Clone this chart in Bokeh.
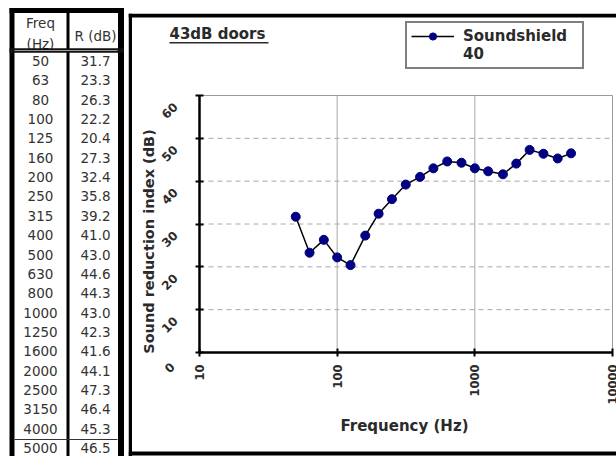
import math
from bokeh.plotting import figure
from bokeh.layouts import row, column
from bokeh.models import (Range1d, FixedTicker, LogTickFormatter, Label, BoxAnnotation, Spacer,
                          Legend, LegendItem, CustomJSTickFormatter)
from bokeh.core.properties import value
from bokeh.embed import file_html
from bokeh.resources import INLINE

# ---- data ----
freqs = [50, 63, 80, 100, 125, 160, 200, 250, 315, 400, 500, 630, 800,
         1000, 1250, 1600, 2000, 2500, 3150, 4000, 5000]
r_db = [31.7, 23.3, 26.3, 22.2, 20.4, 27.3, 32.4, 35.8, 39.2, 41.0, 43.0,
        44.6, 44.3, 43.0, 42.3, 41.6, 44.1, 47.3, 46.4, 45.3, 46.5]
x_ticks = [10, 100, 1000, 10000]
y_ticks = [0, 10, 20, 30, 40, 50, 60]
table_headers = ["Freq", "(Hz)", "R (dB)"]
series_name = ["Soundshield", "40"]
chart_title = "43dB doors"
x_title = "Frequency (Hz)"
y_title = "Sound reduction index (dB)"

FONT = "DejaVu Sans"
TXT = "#2a2a2a"
GRID = "#a8a8a8"

# ---- table (coordinates = page pixels) ----
tf = figure(width=128, height=456, x_range=Range1d(0, 128), y_range=Range1d(456, 0),
            output_backend="svg", toolbar_location=None, min_border=0,
            x_axis_location=None, y_axis_location=None)
tf.grid.visible = False
tf.outline_line_color = None

n = len(freqs)
row_y = [60.5 + i * 19.35 for i in range(n)]
tf.text(x=[40] * n, y=row_y, text=[str(f) for f in freqs], text_align="center",
        text_baseline="middle", text_font=value(FONT), text_font_size="13.5px", text_color="#333333")
tf.text(x=[95] * n, y=row_y, text=["%.1f" % r for r in r_db], text_align="center",
        text_baseline="middle", text_font=value(FONT), text_font_size="13.5px", text_color="#333333")
tf.text(x=[40, 40, 95], y=[22.5, 43, 35], text=table_headers, text_align="center",
        text_baseline="middle", text_font=value(FONT), text_font_size="13.5px", text_color="#333333")

tf.segment(x0=[11.5, 67.5, 120.5], y0=[7.5] * 3, x1=[11.5, 67.5, 120.5], y1=[456] * 3,
           line_color="black", line_width=[5, 3, 6])
tf.segment(x0=[9], y0=[10], x1=[123.5], y1=[10], line_color="black", line_width=5)
tf.segment(x0=[9], y0=[50], x1=[123.5], y1=[50], line_color="#111111", line_width=4.5)
tf.segment(x0=[14], y0=[50], x1=[117], y1=[50], line_color="#9a9a9a", line_width=1.2)
tf.segment(x0=[14], y0=[439], x1=[117], y1=[439], line_color="#333333", line_width=1.2)

# ---- chart: the frame fills the whole canvas (page x 128..616, y 13..456) ----
W, H = 488, 443
PL, PR, PT, PB = 71, 484, 82, 339   # inner plot area in canvas pixels (from top-left)
dec = (PR - PL) / (math.log10(x_ticks[-1]) - math.log10(x_ticks[0]))
x0 = 10 ** (math.log10(x_ticks[0]) - PL / dec)
x1 = 10 ** (math.log10(x_ticks[-1]) + (W - PR) / dec)
upp = (y_ticks[-1] - y_ticks[0]) / (PB - PT)
y0 = y_ticks[0] - (H - PB) * upp
y1 = y_ticks[-1] + PT * upp

p = figure(width=W, height=H, x_axis_type="log", x_range=Range1d(x0, x1),
           y_range=Range1d(y0, y1), output_backend="svg", toolbar_location=None,
           min_border=0)
p.grid.visible = False
p.outline_line_color = None

# box border (left, top, bottom) in screen pixels
for l, r, b, t in [(0, 3.5, 0, H), (0, W, H - 4, H), (0, W, 1, 5)]:
    p.add_layout(BoxAnnotation(left=l, right=r, bottom=b, top=t, left_units="screen",
                               right_units="screen", bottom_units="screen", top_units="screen",
                               fill_color="black", fill_alpha=1, line_color=None))

# gridlines and inner plot box
p.segment(x0=x_ticks[1:-1], y0=[y_ticks[0]] * 2, x1=x_ticks[1:-1], y1=[y_ticks[-1]] * 2,
          line_color=GRID, line_width=1)
p.segment(x0=[x_ticks[0]] * 5, y0=y_ticks[1:-1], x1=[x_ticks[-1]] * 5, y1=y_ticks[1:-1],
          line_color=GRID, line_width=1, line_dash="5 4")
p.segment(x0=[x_ticks[0], x_ticks[-1]], y0=[y_ticks[-1], y_ticks[0]],
          x1=[x_ticks[-1], x_ticks[-1]], y1=[y_ticks[-1], y_ticks[-1]],
          line_color="#9a9a9a", line_width=1)

p.xaxis.ticker = FixedTicker(ticks=x_ticks, minor_ticks=[])
p.xaxis.formatter = LogTickFormatter(min_exponent=5)
p.yaxis.ticker = FixedTicker(ticks=y_ticks, minor_ticks=[])
p.yaxis.formatter = CustomJSTickFormatter(code="return ''")
p.xaxis.fixed_location = y_ticks[0]
p.xaxis.bounds = (x_ticks[0], x_ticks[-1])
p.yaxis.fixed_location = x_ticks[0]
p.yaxis.bounds = (y_ticks[0], y_ticks[-1])

for ax in (p.xaxis, p.yaxis):
    ax.axis_line_color = "black"
    ax.axis_line_width = 2.5
    ax.major_tick_line_color = "black"
    ax.major_tick_line_width = 2
    ax.major_tick_in = 4
    ax.major_tick_out = 4
    ax.minor_tick_line_color = None
    ax.major_label_text_font = FONT
    ax.major_label_text_font_size = "11.5px"
    ax.major_label_text_font_style = "bold"
    ax.major_label_text_color = TXT

p.xaxis.major_label_orientation = math.pi / 2
p.xaxis.major_label_standoff = 8

# slanted y tick labels, hung below-left of each tick as in the original
p.text(x=[x_ticks[0]] * len(y_ticks), y=y_ticks, text=[str(v) for v in y_ticks],
       angle=math.pi / 4, x_offset=-30, y_offset=15, text_align="center",
       text_baseline="middle", text_font=value(FONT), text_font_size="12px",
       text_font_style="bold", text_color=TXT)

r_line = p.line(freqs, r_db, line_color="black", line_width=1.5)
r_pts = p.scatter(freqs, r_db, size=9, fill_color="#000080", line_color="#000080")
r_blank = p.line(x=[], y=[], line_alpha=0)   # empty: carries the legend's second text line

lg = Legend(items=[LegendItem(label=series_name[0], renderers=[r_line, r_pts]),
                   LegendItem(label=series_name[1], renderers=[r_blank])],
            location=(277, 387))
lg.border_line_color = "black"
lg.border_line_width = 2.5
lg.background_fill_color = "white"
lg.background_fill_alpha = 1
lg.padding = 4
lg.margin = 0
lg.spacing = 0
lg.glyph_width = 43
lg.glyph_height = 18
lg.label_height = 18
lg.label_standoff = 9
lg.label_width = 115
lg.label_text_font = FONT
lg.label_text_font_style = "bold"
lg.label_text_font_size = "15px"
lg.label_text_color = TXT
p.add_layout(lg)

# titles
p.add_layout(Label(x=41, y=H - 20, x_units="screen", y_units="screen", text=chart_title,
                   text_font=FONT, text_font_style="bold", text_font_size="15px",
                   text_color=TXT, text_baseline="middle"))
p.add_layout(BoxAnnotation(left=41, right=140, bottom=H - 30, top=H - 28.5,
                           left_units="screen", right_units="screen", bottom_units="screen",
                           top_units="screen", fill_color=TXT, fill_alpha=1, line_color=None))
p.add_layout(Label(x=276, y=H - 412, x_units="screen", y_units="screen", text=x_title,
                   text_font=FONT, text_font_style="bold", text_font_size="15px",
                   text_color=TXT, text_align="center", text_baseline="middle"))
p.add_layout(Label(x=20, y=H - 228, x_units="screen", y_units="screen", text=y_title,
                   angle=math.pi / 2, text_font=FONT, text_font_style="bold",
                   text_font_size="14.5px", text_color=TXT, text_align="center",
                   text_baseline="middle"))

layout = row(tf, column(Spacer(height=13), p))
open("out.html", "w").write(file_html(layout, INLINE))
